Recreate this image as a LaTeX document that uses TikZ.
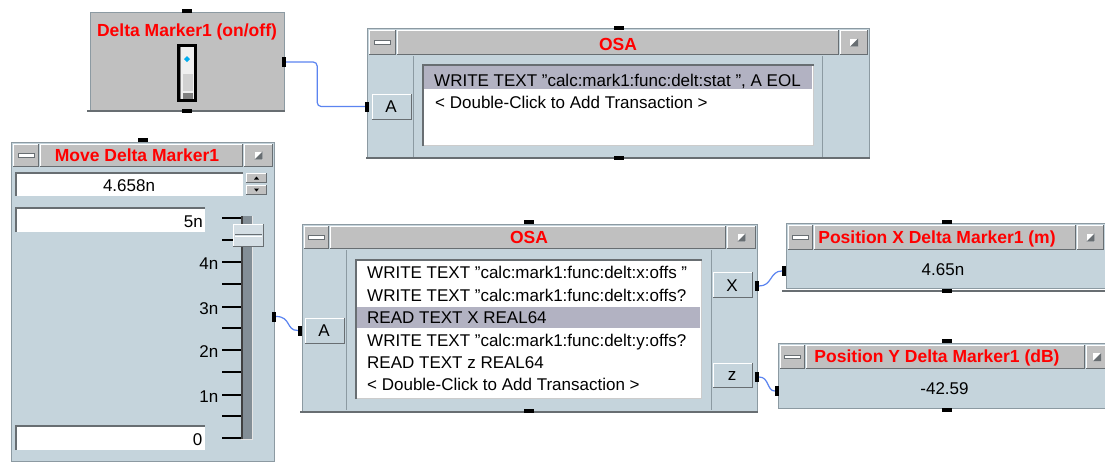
\documentclass[tikz,border=0pt]{standalone}
\usepackage{fontspec}
\setmainfont{Liberation Sans}
\definecolor{bodyc}{HTML}{C5D4DC}
\definecolor{barc}{HTML}{C0C0C0}
\definecolor{edgec}{HTML}{8C9AA2}
\definecolor{darkc}{HTML}{686E72}
\definecolor{hlc}{HTML}{B2B2C2}
\definecolor{wirec}{HTML}{5B84F0}
\definecolor{trackc}{HTML}{838E96}
\definecolor{thumbc}{HTML}{D4DEE4}

\newcommand\myraised[5]{%
  \fill[#5] (#1,#2) rectangle (#3,#4);
  \draw[white,line width=1pt] (#1+0.5,#4) -- (#1+0.5,#2+0.5) -- (#3,#2+0.5);
  \draw[darkc,line width=1pt] (#1,#4-0.5) -- (#3-0.5,#4-0.5) -- (#3-0.5,#2);
}
\newcommand\myminbtn[4]{%
  \myraised{#1}{#2}{#3}{#4}{barc}
  \filldraw[fill=white,draw=darkc,line width=0.6pt] ({(#1+#3)/2-8},{(#2+#4)/2-2}) rectangle ({(#1+#3)/2+8},{(#2+#4)/2+1.5});
}
\newcommand\mymaxbtn[4]{%
  \myraised{#1}{#2}{#3}{#4}{barc}
  \fill[white] ({(#1+#3)/2-4},{(#2+#4)/2-4}) rectangle ({(#1+#3)/2+4},{(#2+#4)/2+4});
  \fill[darkc] ({(#1+#3)/2+4},{(#2+#4)/2+4}) -- ({(#1+#3)/2+4},{(#2+#4)/2-4}) -- ({(#1+#3)/2-4},{(#2+#4)/2+4}) -- cycle;
}
% x1 y1 x2 y2 barbottom minR maxL
\newcommand\mywindow[7]{%
  \fill[bodyc] (#1,#2) rectangle (#3,#4);
  \draw[edgec,line width=1pt] (#1+0.5,#2+0.5) rectangle (#3-0.5,#4-0.5);
  \myminbtn{#1+2}{#2+2}{#6}{#5}
  \myraised{#6+1}{#2+2}{#7-1}{#5}{barc}
  \mymaxbtn{#7}{#2+2}{#3-2}{#5}
}
\newcommand\mylist[4]{%
  \fill[white] (#1,#2) rectangle (#3,#4);
  \draw[white!80!black,line width=1pt] (#3-0.5,#2) -- (#3-0.5,#4-0.5) -- (#1,#4-0.5);
  \draw[darkc,line width=1.5pt] (#1+0.75,#4) -- (#1+0.75,#2+0.75) -- (#3,#2+0.75);
}

\begin{document}
\begin{tikzpicture}[x=1pt,y=-1pt,
  title/.style={text=red,font=\fontsize{17.5}{20}\selectfont\bfseries,inner sep=0,anchor=base},
  txt/.style={text=black,font=\fontsize{17}{20}\selectfont,inner sep=0},
  hport/.style={fill=black,inner sep=0,minimum width=10pt,minimum height=4pt},
  vport/.style={fill=black,inner sep=0,minimum width=4pt,minimum height=10pt},
  wire/.style={draw=wirec,line width=1.2pt},
]
\clip (0,0) rectangle (1105,461);
\fill[white] (0,0) rectangle (1105,461);

% ---------- Delta Marker1 (on/off) ----------
\fill[barc] (90,12) rectangle (285,110);
\draw[edgec,line width=1pt] (90.5,110) -- (90.5,12.5) -- (284.5,12.5) -- (284.5,110);
\draw[darkc,line width=1.5pt] (87,111) -- (285,111);
\node[title] (dTitle) at (187,36) {Delta Marker1 (on/off)};
\fill[black] (177,44) rectangle (197,102);
\fill[white!94!black] (180,47) rectangle (194,99);
\draw[gray,line width=1pt] (180.5,99) -- (180.5,47);
\fill[white!82!black] (183,74) rectangle (193,91);
\fill[gray] (183,93) rectangle (193,99);
\fill[cyan] (187,56) -- (190,59) -- (187,62) -- (184,59) -- cycle;
\node[hport] (dT) at (187,11) {};
\node[hport] (dB) at (187,111) {};
\node[vport] (dR) at (284,62) {};

% ---------- OSA (top) ----------
\mywindow{367}{28}{870}{158}{55}{396}{840}
\draw[darkc,line width=1.5pt] (366,158) -- (870,158);
\node[title] (o1Title) at (618,50) {OSA};
\draw[edgec,line width=1pt] (413.5,56) -- (413.5,157);
\draw[edgec,line width=1pt] (822.5,56) -- (822.5,157);
\myraised{372}{94}{412}{120}{bodyc}
\node[txt,anchor=base] (o1Alab) at (391,112) {A};
\mylist{422}{64}{814}{146}
\fill[hlc] (424,66) rectangle (812,89);
\begin{scope}
\clip (424,64) rectangle (812,146);
\node[txt,anchor=base west] (o1l1) at (434,86) {WRITE TEXT "calc:mark1:func:delt:stat ", A EOL};
\node[txt,anchor=base west] (o1l2) at (435,108) {< Double-Click to Add Transaction >};
\end{scope}
\node[hport] (o1T) at (619,27.5) {};
\node[hport] (o1B) at (619,157.5) {};
\node[vport] (o1A) at (367,106.5) {};

% ---------- Move Delta Marker1 ----------
\mywindow{11}{142}{275}{462}{167}{39}{244}
\node[title] (mTitle) at (137,161) {Move Delta Marker1};
\fill[white] (15,172) rectangle (243,196);
\draw[darkc,line width=1.5pt] (15.75,196) -- (15.75,172.75) -- (243,172.75);
\node[txt,anchor=base] (mVal) at (129,191.5) {4.658n};
\myraised{246}{173}{267}{183}{barc}
\myraised{246}{185}{267}{195}{barc}
\fill[black] (254,179.5) -- (259,179.5) -- (256.5,176.5) -- cycle;
\fill[black] (254,188.5) -- (259,188.5) -- (256.5,191.5) -- cycle;
\fill[white] (15,207) rectangle (205,232);
\draw[darkc,line width=1.5pt] (15.75,232) -- (15.75,207.75) -- (205,207.75);
\node[txt,anchor=base east] (mMax) at (203,227.5) {5n};
\fill[white] (15,425) rectangle (205,450);
\draw[darkc,line width=1.5pt] (15.75,450) -- (15.75,425.75) -- (205,425.75);
\node[txt,anchor=base east] (mMin) at (202.5,445) {0};
\foreach \ty in {218,240,262,284,307,328,350,372,395,416,438}
  \draw[black,line width=1.2pt] (222,\ty) -- (241,\ty);
\fill[trackc] (241,216) rectangle (253,439);
\draw[black!75,line width=1.5pt] (241.75,216) -- (241.75,439);
\draw[white!90!black,line width=1pt] (252.5,216) -- (252.5,439) -- (241,439);
\myraised{233}{224}{264}{247}{thumbc}
\draw[darkc,line width=1pt] (235,234.5) -- (262,234.5);
\draw[white,line width=1pt] (235,236.5) -- (262,236.5);
\node[txt,anchor=base east] (l4) at (218.5,269.5) {4n};
\node[txt,anchor=base east] (l3) at (218.5,314.5) {3n};
\node[txt,anchor=base east] (l2) at (218.5,357.5) {2n};
\node[txt,anchor=base east] (l1) at (218.5,402.5) {1n};
\node[hport] (mT) at (142.5,139.5) {};
\node[vport] (mR) at (274,316.5) {};

% ---------- OSA (bottom) ----------
\mywindow{302}{224}{758}{412}{249}{329}{727}
\draw[darkc,line width=1.5pt] (300,412) -- (758,412);
\node[title] (o2Title) at (529,243.5) {OSA};
\draw[edgec,line width=1pt] (346.5,250) -- (346.5,410);
\draw[edgec,line width=1pt] (711.5,250) -- (711.5,410);
\myraised{305}{318}{345}{344}{bodyc}
\node[txt,anchor=base] (o2Alab) at (324,336) {A};
\myraised{713}{272}{753}{298}{bodyc}
\node[txt,anchor=base] (o2Xlab) at (732,291.5) {X};
\myraised{713}{363}{753}{388}{bodyc}
\node[txt,anchor=base] (o2zlab) at (732,380.5) {z};
\mylist{355}{259}{702}{399}
\fill[hlc] (357,307) rectangle (700,328);
\begin{scope}
\clip (357,259) rectangle (700,399);
\node[txt,anchor=base west] (o2l1) at (367,278.5) {WRITE TEXT "calc:mark1:func:delt:x:offs "};
\node[txt,anchor=base west] (o2l2) at (367,301) {WRITE TEXT "calc:mark1:func:delt:x:offs?};
\node[txt,anchor=base west] (o2l3) at (367,323.5) {READ TEXT X REAL64};
\node[txt,anchor=base west] (o2l4) at (367,346) {WRITE TEXT "calc:mark1:func:delt:y:offs?};
\node[txt,anchor=base west] (o2l5) at (367,368) {READ TEXT z REAL64};
\node[txt,anchor=base west] (o2l6) at (367,390.5) {< Double-Click to Add Transaction >};
\end{scope}
\node[hport] (o2T) at (529,222) {};
\node[hport] (o2B) at (529,411) {};
\node[vport] (o2A) at (300,330.5) {};
\node[vport] (o2X) at (757,286) {};
\node[vport] (o2z) at (757,377) {};

% ---------- Position X ----------
\mywindow{786}{223}{1106}{289}{250}{813}{1077}
\draw[darkc,line width=1.5pt] (782,291) -- (1105,291);
\node[title] (pxTitle) at (937,243.5) {Position X Delta Marker1 (m)};
\node[txt,anchor=base] (pxVal) at (943,275.5) {4.65n};
\node[hport] (pxT) at (947,221.5) {};
\node[hport] (pxB) at (947,291) {};
\node[vport] (pxIn) at (784,271) {};

% ---------- Position Y ----------
\mywindow{778}{343}{1110}{409}{369}{805}{1086}
\node[title] (pyTitle) at (937,362.5) {Position Y Delta Marker1 (dB)};
\node[txt,anchor=base] (pyVal) at (944.5,394) {-42.59};
\node[hport] (pyT) at (947,341) {};
\node[hport] (pyB) at (947,410) {};
\node[vport] (pyIn) at (777,391) {};

% ---------- wires ----------
\draw[wire,rounded corners=4pt] (dR.east) -- ++(31,0) |- (o1A.west);
\draw[wire] (mR.east) .. controls +(15,0) and +(-12,0) .. (o2A.west);
\draw[wire] (o2X.east) .. controls +(13,0) and +(-12,0) .. (pxIn.west);
\draw[wire] (o2z.east) .. controls +(10,0) and +(-8,0) .. (pyIn.west);
\end{tikzpicture}
\end{document}
